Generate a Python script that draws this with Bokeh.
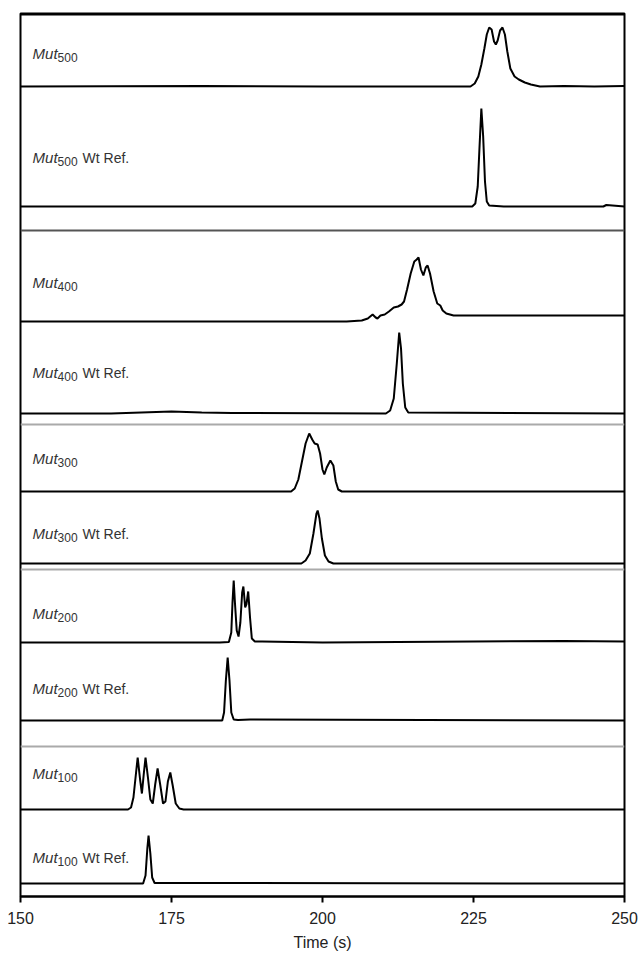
from bokeh.plotting import figure
from bokeh.models import Range1d, Label, Span, FixedTicker
from bokeh.embed import file_html
from bokeh.resources import INLINE

# ---------------- data (time in s, signal in a.u. above each trace baseline) ----------------
t_mut500 = [150, 180, 200, 224.5, 225.2, 225.8, 226.3, 226.8, 227.2, 227.6, 228.0, 228.4, 228.7, 229.0,
            229.4, 229.8, 230.2, 230.6, 231.1, 231.8, 232.5, 233.5, 234.5, 236, 240, 245, 250]
s_mut500 = [0, 0.5, 0, 0, 3, 10, 22, 38, 52, 59, 57, 45, 42, 46,
            56, 59, 52, 35, 18, 10, 7, 4, 2, 0, 0.5, 0, 0.5]

t_wt500 = [150, 200, 224.8, 225.3, 225.7, 226.0, 226.3, 226.6, 226.9, 227.2, 227.6, 230, 246.5, 247, 248, 250]
s_wt500 = [0, 0, 0, 3, 20, 60, 98, 70, 25, 5, 1, 0, 0, 1.5, 1, 0]

t_mut400 = [150, 204, 206.5, 207.5, 208.3, 208.8, 209.1, 209.6, 210.3, 211.0, 211.8, 212.5, 213.1, 213.5,
            214.0, 214.6, 215.2, 215.6, 215.9, 216.3, 216.7, 217.1, 217.4, 217.8, 218.4, 219.0, 219.5,
            219.9, 220.5, 221.7, 225, 250]
s_mut400 = [0, 0, 1, 3, 7, 4, 3, 6, 7, 10, 14, 15, 17, 20,
            32, 48, 60, 62, 64, 52, 46, 54, 56, 48, 30, 18, 16,
            11, 8, 6, 6, 6]

t_wt400 = [150, 165, 170, 175, 180, 185, 210.5, 211.2, 211.8, 212.3, 212.7, 213.0, 213.3, 213.7, 214.2, 250]
s_wt400 = [0, 0, 1, 2, 1, 0.5, 0, 3, 15, 50, 81, 65, 30, 6, 1, 0]

t_mut300 = [150, 194.8, 195.4, 196.0, 196.6, 197.2, 197.8, 198.3, 198.7, 199.2, 199.6, 200.0, 200.3,
            200.7, 201.3, 201.8, 202.2, 202.6, 203.2, 250]
s_mut300 = [0, 0, 3, 12, 30, 48, 58, 52, 48, 47, 38, 22, 17,
            24, 31, 26, 10, 2, 0, 0]

t_wt300 = [150, 196.5, 197.2, 197.9, 198.5, 199.0, 199.2, 199.5, 199.9, 200.4, 201.0, 201.8, 250]
s_wt300 = [0, 0, 3, 10, 30, 50, 53, 45, 25, 8, 2, 0, 0]

t_mut200 = [150, 183, 184.5, 184.9, 185.1, 185.3, 185.5, 185.8, 186.1, 186.4, 186.7, 186.9, 187.2,
            187.4, 187.7, 188.0, 188.3, 188.8, 190, 200, 225, 240, 250]
s_mut200 = [0, 0, 0.5, 10, 40, 62, 40, 12, 6, 20, 50, 56, 35,
            38, 51, 25, 4, 1, 1, 0, 1, 1.5, 1]

t_wt200 = [150, 183.4, 183.7, 184.0, 184.3, 184.6, 184.9, 185.3, 186, 188, 250]
s_wt200 = [0, 0, 8, 40, 63, 40, 8, 1, 0.5, 1, 0]

t_mut100 = [150, 167.8, 168.3, 168.7, 169.1, 169.4, 169.8, 170.1, 170.4, 170.7, 171.1, 171.5, 171.9,
            172.3, 172.7, 173.1, 173.6, 174.0, 174.4, 174.8, 175.2, 175.7, 176.3, 177, 250]
s_mut100 = [0, 0, 2, 12, 35, 52, 30, 16, 35, 52, 32, 10, 6,
            25, 41, 26, 6, 8, 28, 37, 24, 6, 1, 0, 0]

t_wt100 = [150, 170.3, 170.7, 171.0, 171.2, 171.5, 171.8, 172.2, 250]
s_wt100 = [0, 0, 8, 35, 48, 30, 6, 0.5, 0]

subscripts = ["500", "500", "400", "400", "300", "300", "200", "200", "100", "100"]
is_ref = [False, True, False, True, False, True, False, True, False, True]
x_ticks = [150, 175, 200, 225, 250]

# ---------------- layout (vertical stacking in frame units) ----------------
traces = [(t_mut500, s_mut500), (t_wt500, s_wt500), (t_mut400, s_mut400), (t_wt400, s_wt400),
          (t_mut300, s_mut300), (t_wt300, s_wt300), (t_mut200, s_mut200), (t_wt200, s_wt200),
          (t_mut100, s_mut100), (t_wt100, s_wt100)]
trace_offsets = [810, 690, 575, 483, 405, 333, 254, 176, 87, 13]
label_y = [843, 739, 614, 524, 438, 363, 283, 208, 123, 39]
dividers = [(666, "#555555"), (472, "#aaaaaa"), (327, "#aaaaaa"), (150, "#aaaaaa")]

FONT = "Liberation Sans"

p = figure(frame_width=604, frame_height=883, output_backend="svg", toolbar_location=None,
           x_range=Range1d(150, 250), y_range=Range1d(0, 883),
           min_border_left=20, min_border_right=16, min_border_top=13, min_border_bottom=57)
p.grid.visible = False
p.yaxis.visible = False
p.outline_line_color = "black"
p.outline_line_width = 2
p.outline_line_alpha = 1.0
p.background_fill_color = "white"
p.border_fill_color = "white"

ax = p.xaxis[0]
ax.ticker = FixedTicker(ticks=x_ticks)
ax.minor_tick_line_color = None
ax.major_tick_out = 6
ax.major_tick_in = 0
ax.major_tick_line_width = 2
ax.axis_line_width = 2
ax.axis_line_color = "black"
ax.major_label_standoff = 9
ax.major_label_text_font = FONT
ax.major_label_text_font_size = "16px"
ax.major_label_text_color = "#222222"
ax.axis_label = "Time (s)"
ax.axis_label_text_font = FONT
ax.axis_label_text_font_style = "normal"
ax.axis_label_text_font_size = "16px"
ax.axis_label_text_color = "#222222"
ax.axis_label_standoff = 7

# top border thicker
p.add_layout(Span(location=883, dimension="width", line_color="black", line_width=4))

for loc, col in dividers:
    p.add_layout(Span(location=loc, dimension="width", line_color=col, line_width=2))

for (t, s), off in zip(traces, trace_offsets):
    p.line(t, [off + v for v in s], line_color="black", line_width=2)

for sub, ref, ly in zip(subscripts, is_ref, label_y):
    p.add_layout(Label(x=152, y=ly, text="Mut", text_font=FONT, text_font_style="italic",
                       text_font_size="15px", text_color="#333333", text_baseline="alphabetic"))
    p.add_layout(Label(x=152, y=ly, x_offset=25, y_offset=-4, text=sub, text_font=FONT,
                       text_font_size="12px", text_color="#333333", text_baseline="alphabetic"))
    if ref:
        p.add_layout(Label(x=152, y=ly, x_offset=50, text="Wt Ref.", text_font=FONT,
                           text_font_size="14px", text_color="#333333", text_baseline="alphabetic"))

open("out.html", "w").write(file_html(p, INLINE))
